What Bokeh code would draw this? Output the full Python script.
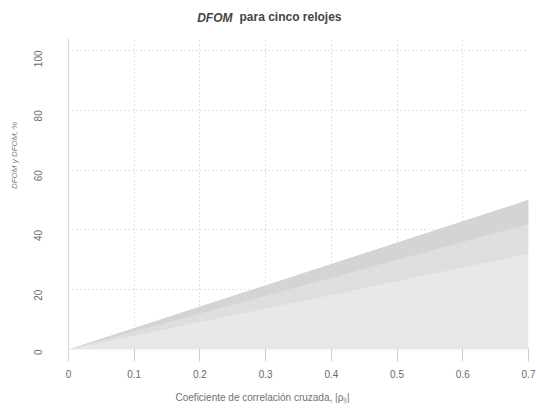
from math import pi

from bokeh.embed import file_html
from bokeh.models import FixedTicker, Label
from bokeh.plotting import figure
from bokeh.resources import INLINE

# Cross-correlation coefficient |rho_ij| and the DFOM envelope (%)
corr = [0.0, 0.7]
dfom_upper = [0.0, 50.0]
dfom_mid = [0.0, 42.0]
dfom_low = [0.0, 32.0]
dfom_floor = [0.0, 0.0]

x_ticks = [0.0, 0.1, 0.2, 0.3, 0.4, 0.5, 0.6, 0.7]
y_ticks = [0, 20, 40, 60, 80, 100]

FONT = "Liberation Sans"

p = figure(
    width=536, height=408,
    x_range=(0.0, 0.7), y_range=(-4, 104),
    output_backend="svg", toolbar_location=None,
    min_border_left=68, min_border_right=8,
    min_border_top=38, min_border_bottom=47,
    outline_line_color=None,
    background_fill_color="white", border_fill_color="white",
)

# shaded region under the DFOM envelope, darker towards the top edge
p.varea(x=corr, y1=dfom_floor, y2=dfom_upper, fill_color="#e8e8e8")
p.varea(x=corr, y1=dfom_low, y2=dfom_upper, fill_color="#dedede")
p.varea(x=corr, y1=dfom_mid, y2=dfom_upper, fill_color="#d4d4d4")

# axes
for ax in (p.xaxis[0], p.yaxis[0]):
    ax.axis_line_color = "#d8d8d8"
    ax.major_tick_line_color = "#cfcfcf"
    ax.minor_tick_line_color = None
    ax.major_label_text_font = FONT
    ax.major_label_text_font_size = "10px"
    ax.major_label_text_color = "#6a6a6a"

p.xaxis.ticker = FixedTicker(ticks=x_ticks)
p.xaxis.major_label_overrides = {0: "0"}
p.xaxis.major_tick_in = 13
p.xaxis.major_tick_out = 0
p.xaxis.major_label_standoff = 8
p.xaxis.axis_line_color = None

p.yaxis.ticker = FixedTicker(ticks=y_ticks)
p.yaxis.major_tick_in = 0
p.yaxis.major_tick_out = 0
p.yaxis.major_label_orientation = pi / 2
p.yaxis.major_label_standoff = 30

# dotted grid
p.xgrid.ticker = FixedTicker(ticks=x_ticks[1:])
p.ygrid.ticker = FixedTicker(ticks=y_ticks[1:])
for g in (p.xgrid[0], p.ygrid[0]):
    g.grid_line_color = "#a8a8a8"
    g.grid_line_dash = "1 3"
    g.grid_line_width = 1
    g.grid_line_alpha = 0.7

# title: italic DFOM followed by plain text
p.add_layout(Label(x=164, y=21, x_units="screen", y_units="screen",
                   text="DFOM", text_align="right", text_baseline="middle",
                   text_font=FONT, text_font_size="12px", text_font_style="bold italic",
                   text_color="#444444"), "above")
p.add_layout(Label(x=171, y=8, x_units="screen", y_units="screen",
                   text="para cinco relojes", text_align="left", text_baseline="middle",
                   text_font=FONT, text_font_size="12px", text_font_style="bold",
                   text_color="#444444"), "above")

# axis titles
p.add_layout(Label(x=194, y=-6, x_units="screen", y_units="screen",
                   text="Coeficiente de correlación cruzada, |ρᵢⱼ|",
                   text_align="center", text_baseline="middle",
                   text_font=FONT, text_font_size="10px", text_color="#707070"), "below")
p.add_layout(Label(x=-4, y=206, x_units="screen", y_units="screen",
                   text="DFOM y DFOM, %", angle=pi / 2,
                   text_align="center", text_baseline="middle",
                   text_font=FONT, text_font_size="8px", text_font_style="italic",
                   text_color="#808080"), "left")

open("out.html", "w").write(file_html(p, INLINE))
